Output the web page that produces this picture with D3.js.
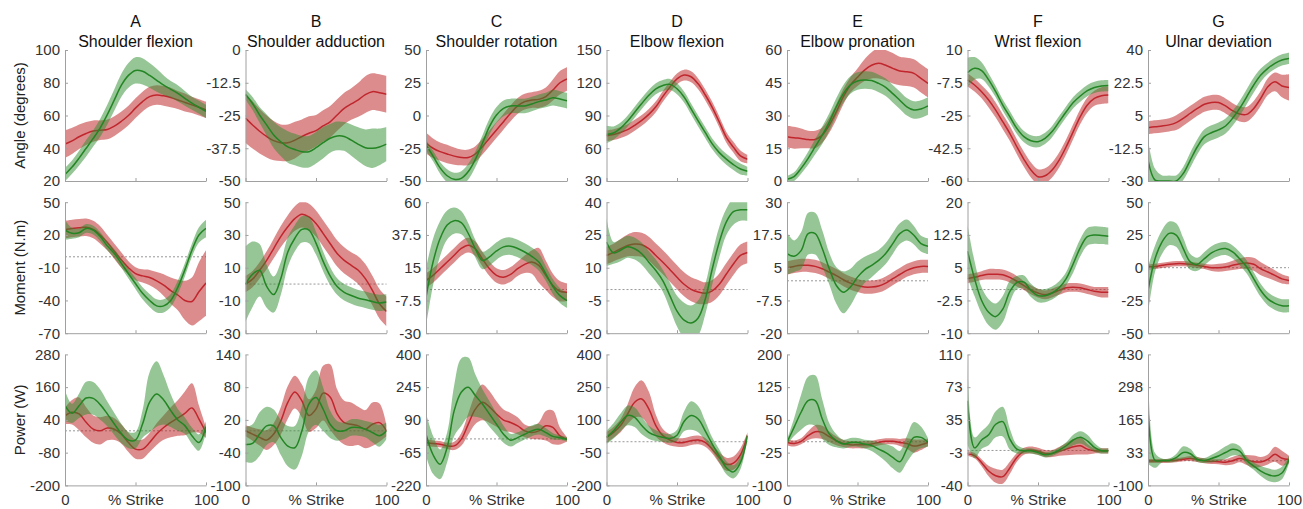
<!DOCTYPE html>
<html><head><meta charset="utf-8">
<script src="https://cdn.jsdelivr.net/npm/d3@7"></script>
<style>body{margin:0;background:#fff} text{font-family:Arial,"Liberation Sans",sans-serif}</style>
</head><body><svg id="c" width="1303" height="509"></svg>
<script>
// ---------- data ----------
const percentStrike = [0,5,10,15,20,25,30,35,40,45,50,55,60,65,70,75,80,85,90,95,100];
const panelLetters = ["A","B","C","D","E","F","G"];
const jointNames = ["Shoulder flexion","Shoulder adduction","Shoulder rotation","Elbow flexion","Elbow pronation","Wrist flexion","Ulnar deviation"];
const rowLabels = ["Angle (degrees)","Moment (N.m)","Power (W)"];
const xTickLabels = ["0","% Strike","100"];

const angleTicks = [
 ["100","80","60","40","20"],["0","-12.5","-25","-37.5","-50"],["50","25","0","-25","-50"],
 ["150","120","90","60","30"],["60","45","30","15","0"],["10","-7.5","-25","-42.5","-60"],["40","22.5","5","-12.5","-30"]];
const momentTicks = [
 ["50","20","-10","-40","-70"],["50","30","10","-10","-30"],["60","37.5","15","-7.5","-30"],
 ["40","25","10","-5","-20"],["30","17.5","5","-7.5","-20"],["20","12.5","5","-2.5","-10"],["50","25","0","-25","-50"]];
const powerTicks = [
 ["280","160","40","-80","-200"],["140","80","20","-40","-100"],["400","245","90","-65","-220"],
 ["400","250","100","-50","-200"],["200","125","50","-25","-100"],["110","73","35","-3","-40"],["430","298","165","33","-100"]];

const angleRedMean = [
 [42.5,44.5,47,49,50.5,51,51.5,53.5,56.5,60,64.5,68.5,71.5,72.5,72,71,69.5,68,66.5,65,63.5],
 [-26,-28.6,-31,-33,-34.6,-35.4,-35.4,-34.4,-33,-31.8,-30.8,-29,-27.4,-24.8,-22.3,-20.6,-19,-17,-15.9,-16.3,-16.9],
 [-21,-25,-27.6,-29.4,-31,-32,-32,-29.4,-23.8,-17.4,-11,-4.7,1.7,7.3,10.6,11.8,12.3,14.4,19.5,25,27.9],
 [71.5,72.5,74.5,77,81,85.5,91,98,107.5,116,123.5,127,125.5,119,109,97.5,84,70,61,53,50],
 [20.3,19.8,19.5,19,19,21,25.6,31.7,38.6,44,47.5,50.8,53,53.9,53,51.6,50.4,50,49.3,47,44.7],
 [-6,-8.7,-12.3,-16.7,-22.1,-28.3,-34.5,-41.7,-48.4,-54.1,-57.7,-57.2,-54.1,-48.8,-41.7,-33.6,-25.6,-19.4,-15.8,-14.4,-14],
 [-1.5,-1,-0.6,0,1.2,3.5,6.2,8.8,11,12,11.9,10.1,7.6,5.8,5.6,8.8,14.2,20.4,23,20.8,20]];
const angleRedSd = [
 [8.4,8,7.5,7,6.5,6,6,6,6,6,6,6,6,6,6,6,5.5,5.5,5,5,5],
 [9.5,9,8.5,8,7.5,7,7,7,6.5,6.5,6,6,6,6,6,6,6.5,7,7,7,7],
 [8,7.5,7,7,6.5,6,6,6,6,6,6,6,6,6,6,6,6.5,7,8,9,9],
 [5,5,5,5,5,5,5,5,5,5,5,5,5,5,5,5,5,5,5,5,4],
 [5,5,4.5,4,4,3.5,3.5,3.5,3.5,3.5,4,5,6,7,7,7,6.5,6.5,6.5,6.5,6.5],
 [3.5,3.5,3.5,4,4,4,4,4,4,4,4,4,4,4,4,4,4,4,4,4.5,4.5],
 [3.5,3.5,3.5,3.5,4,4,4,4,4,4,4,4,4,4,4,4,4,4.5,5,6,7]];
const angleGreenMean = [
 [24,28.5,34,40,46,52.5,60.5,69.5,78.5,84.5,87.5,87,84.5,81.5,78.5,76,73.5,70.5,67.5,65,62.5],
 [-17,-20.4,-24.8,-28.6,-32.4,-35,-37,-38,-38.8,-38.8,-37.3,-35.4,-33.7,-32.8,-33,-34.4,-36,-37.3,-37.5,-37,-35.9],
 [-22.5,-31,-40,-46,-48.7,-48,-42.8,-33.5,-21.2,-8.5,0.4,5.5,7.3,7.3,7.3,8.8,10.6,11.8,13.6,12.6,11.3],
 [72.5,74,78.5,85,93,101,108.5,114.5,117.5,118.5,114.5,107,96,85,74.5,64,56,50,45,41,39],
 [0.8,2,5.8,10.4,15.7,21,27,34,40,44,45.8,46.3,46,44.7,42.9,40,37,34,32.5,33,34.4],
 [-2.1,0.2,-1,-6,-12.3,-19.4,-25.6,-31.9,-36.3,-38.5,-39,-37.2,-33.6,-28.3,-23,-18.1,-14.6,-11.7,-10,-9.2,-9],
 [-18.8,-29.5,-30,-30,-30,-26,-18.8,-11.7,-6.3,-4.2,-2.7,-0.6,3.5,8.8,15,21.3,26.6,30.2,32.9,34.7,35.5]];
const angleGreenSd = [
 [4,4,4.5,5,5,5.5,6,6.5,7,7.5,8,8,7.5,7,6,5,5,4.5,4,4,4],
 [2,2.5,3,4,5,5.5,6,6,6,6,6,6,5.5,5.5,5.5,6,6.5,7,7.5,7,6.5],
 [4,4,4.5,5,5,5.5,6,6,6,6,6,6,5.5,5.5,5.5,5.5,5.5,5.5,6,6,6],
 [8,6,5,5,5,5,5,5,5,5,5,5,5,5,5,5,5,5,5,5,4],
 [1.5,2,2.5,3,3.5,4,4,4,4,4,4,4,4,4,4,4,4,4,4,4,4],
 [8,6,4.5,3.5,3,3,3,3,3,3,3,3,3,3,3,3,3,3,3,3,3],
 [11,6,3,3,3,3.5,4,4,4,4,4,4,4,4,4,4,3.5,3,3,3,3]];

const momentRedMean = [
 [25,26,26.5,27,25,20,13,5,-3,-10,-15.5,-17.5,-19,-22,-26,-31,-35,-40,-41,-32,-24],
 [0,3,8.4,14.5,21.7,29,35,40,42.6,41,37,31,24.8,18.7,14.5,11.4,8.4,3.3,-3.9,-12,-16.7],
 [6.2,9.7,14.3,18.9,23.5,28.2,30.5,28,21,14.3,9.7,8.5,10.4,14.3,17.3,18.9,16.6,9.7,2.8,-1.2,-1.8],
 [15.6,17,18.7,20.2,20.8,20.5,18.7,15.6,12.5,9.1,5.6,2.4,0.1,-1.1,-1.7,-0.6,2.4,7.1,11.7,15.6,17],
 [4.9,5.5,5.9,5.9,5.5,4.6,3.3,2,0.4,-0.9,-1.8,-2.4,-2.4,-2,-0.9,0.8,2.4,4,5,5.5,5.5],
 [2.5,2.8,3.2,3.5,3.5,3.4,2.8,1.9,0.9,-0.1,-0.8,-1.2,-0.8,-0.2,0.4,0.5,0.4,0,-0.4,-0.6,-0.6],
 [0.5,1,1.8,2.6,3.1,3.1,2.6,1.8,1,0,0,0.5,1.8,3.1,3.6,2.6,-0.8,-3.3,-5.9,-8.5,-9.7]];
const momentRedSd = [
 [8,8,8,8,8,8,7,7,7,6,6,6,7,8,10,12,14,18,22,27,30],
 [5,5,5,5.5,6,6.5,7,7.5,8,8,8,8,8,8,8,8,8.5,9,9,9,9],
 [5,5,5,5,5,5,5,5,5,5,5,5,5,5,6,8,12,10,8,7,6],
 [4,4,4.5,5,5.5,5.5,5.5,5.5,5.5,5.5,5.5,5.5,5.5,5.5,5,5,5,5,5,5,5],
 [2.5,2.5,2.5,2.5,2.5,2.5,2.5,2.5,2.5,2.5,2.5,2.5,2.5,2.5,2.5,2.5,2.5,2.5,2.5,2.5,2.5],
 [1,1,1,1.2,1.2,1.2,1.2,1.2,1,1,1,1,1,1,1,1,1,1,1,1.2,1.2],
 [2,2,2,2,2,2,2,2,2,2.5,3,3,3.5,4,4.5,5,5,4.5,4,3.5,3]];
const momentGreenMean = [
 [24.5,21.5,22,26,24.5,18.5,10,3,-6,-15.5,-24.5,-33.5,-40,-45,-45,-40,-28,-12,6,20,26],
 [0,6,8.4,-1.4,-6.4,3.3,19.6,28,33.4,33,25,14,5,-1.5,-5,-7,-8.6,-9.6,-10.7,-11.5,-11],
 [-5.3,18.9,35,44.3,47.3,45.9,38.5,28,20,22.4,26.5,29.3,29.8,28.2,25.8,22.8,18.9,10.8,2,-4.2,-7.6],
 [21.8,16.8,18,19.6,18.7,16.4,12.5,8.7,4,-2.9,-9.9,-14,-15.3,-13,-4.5,9.4,21.8,31,35.7,36.5,36.5],
 [10.4,9.4,11.5,18,18,12.3,4.6,-1.8,-4.4,-2.4,1.4,4.2,5.9,7.8,10.4,14.2,18,19.4,17.4,14.2,13.2],
 [8.8,2.5,-2.5,-5.2,-6.2,-4.5,-0.5,1.6,1.7,-0.2,-1.4,-1.4,-0.8,0.4,2.5,5.9,9.6,12.1,12.5,12.4,12.2],
 [-17.4,6.9,19.7,26.2,24.9,14.6,4.4,2.6,6.9,11.3,13.8,14.6,12,6.9,0.5,-8.5,-17.4,-23.8,-27.2,-29,-29]];
const momentGreenSd = [
 [9,5,4,4,4,4,4,4,4,4.5,5,5.5,6,6,6,6,6,6,6,7,8],
 [23,20,16,13,11,10,9,8,8,8,7,6,5.5,5,5,5,5,5,5,5,5],
 [20,16,12,10,9,8,7,6,6,6,6,6,6,6,6,6,6,5,5,5,5],
 [11,5,5,5,5,5,5,5,5,6,7,8,8,8,7,7,7,6,6,5,5],
 [8,6,7,8,8,7,6,7,8,7,6,5,4.5,4,4,4,4,4,3.5,3,3],
 [6,4,3,3,3,3,2.5,1.5,1.5,1.5,1.5,1.5,1.5,1.5,1.5,2,2,2,2,2,2],
 [18,10,9,9,9,8,6,5,5,5,5,5,5,5,5,5,5,5,5,5,5]];

const powerRedMean = [
 [55,68,62,31,6,0,10,6,-12,-43,-67,-67,-43,-12,12,31,47,64,84,43,-6],
 [0,-6,-12,-17,-6,18,52,71,55,28,40,69,62,31,15,12,9,3,12,15,0],
 [-17,-22,-25,-33,-33,-2,70,141,173,152,118,89,78,62,38,30,38,62,55,14,-2],
 [20,43,74,127,181,196,150,74,28,8,-3,-3,5,8,-3,-34,-73,-103,-98,-60,28],
 [-1.5,-4,1,14,23,21.5,11.5,2,-4,-7,-7,-7,-5,-1.5,1,1,-1.5,-4,-10,-7,-1.5],
 [-3.4,-6,-14,-23.5,-29,-30,-20,-8,-1,0.4,-1,-3.4,-3.4,-1,1.5,4.2,5.4,1.5,-0.4,-0.4,-0.4],
 [-1,-1,-1,0,2,6,9,5,0,-3,-4,-6,0,9,3,-4,-5,5,26,10,5]];
const powerRedSd = [
 [30,45,60,55,50,50,45,40,35,35,35,35,35,40,45,55,65,80,90,50,20],
 [10,12,15,18,20,25,30,30,30,30,35,50,60,45,40,40,35,35,40,35,10],
 [15,15,15,15,20,30,50,70,85,75,60,50,45,40,30,30,40,70,80,40,10],
 [25,25,30,45,70,85,80,50,30,25,20,20,20,20,20,20,25,30,30,30,15],
 [7,7,7,10,15,15,12,10,8,8,8,8,7,7,7,7,8,12,15,12,8],
 [3,3,4,6,8,8,7,5,4,4,4,4,4,5,7,9,10,6,3,3,3],
 [8,8,8,8,8,8,10,10,10,10,10,12,15,15,20,25,20,20,30,30,15]];
const powerGreenMean = [
 [92,64,92,120,119,96,62,25,-10,-34,-34,25,105,135,113,74,40,19,-18,-43,15],
 [-25,-23,-6,9,9,-12,-28,-31,0,49,61,40,12,0,0,6,6,3,-3,-9,0],
 [22,-75,-120,-40,134,221,245,205,165,118,70,22,-6,6,22,38,46,30,12,6,-2],
 [20,50,89,120,112,74,43,28,20,15,30,93,120,104,50,-11,-65,-119,-138,-96,28],
 [-1.5,33,67.5,94,94,52,17.6,2.3,-5.4,-1.5,-1.5,-5.4,-9,-17,-25,-36,-46,-17,10,10,-1.5],
 [57,3,12,18,30,33,13,1.5,-0.4,-0.4,-2.3,-5,-3.4,0.4,5.4,12,15,11,3.5,-0.4,-0.4],
 [209,1,1,1,12,33,28,5,1,9,19,33,46,39,1,-22,-42,-56,-62,-50,5]];
const powerGreenSd = [
 [55,35,45,60,60,55,45,40,35,30,30,50,110,120,90,60,40,30,30,30,20],
 [32,35,40,35,30,32,37,40,45,50,50,40,25,18,15,15,15,15,18,20,15],
 [100,90,70,70,120,160,140,100,70,60,50,40,30,25,25,25,25,20,15,10,10],
 [30,35,40,45,45,40,30,25,20,20,25,45,65,60,45,30,30,30,30,30,15],
 [5,20,40,55,58,45,25,15,10,10,10,10,12,15,20,25,25,30,35,25,10],
 [50,12,10,12,15,17,12,5,3,3,3,3,3,3,4,6,7,7,5,3,3],
 [220,30,8,8,15,25,20,10,10,15,20,25,25,20,15,15,20,25,25,25,15]];

// ---------- drawing ----------
const svg = d3.select("#c");
const defs = svg.append("defs");
const rows = [
 {ticks: angleTicks, rm: angleRedMean, rs: angleRedSd, gm: angleGreenMean, gs: angleGreenSd, zero: false},
 {ticks: momentTicks, rm: momentRedMean, rs: momentRedSd, gm: momentGreenMean, gs: momentGreenSd, zero: true},
 {ticks: powerTicks, rm: powerRedMean, rs: powerRedSd, gm: powerGreenMean, gs: powerGreenSd, zero: true}];
const series = [
 {key: "r", fill: "#bb2222", fillOp: 0.52, line: "#c0262d"},
 {key: "g", fill: "#2e8b2e", fillOp: 0.5, line: "#238523"}];
const W = 141, Hh = 131;
const colLeft = c => 65 + c * 180.5;
const rowTop = r => 50 + r * 152.2;
const curve = d3.curveCatmullRom.alpha(0.5);

rows.forEach((row, r) => {
  for (let c = 0; c < 7; c++) {
    const left = colLeft(c), top = rowTop(r);
    const labels = row.ticks[c];
    const ymax = +labels[0], ymin = +labels[4];
    const x = d3.scaleLinear().domain([0, 100]).range([left, left + W]);
    const y = d3.scaleLinear().domain([ymin, ymax]).range([top + Hh, top]);
    const g = svg.append("g");
    const cid = `clip${r}_${c}`;
    defs.append("clipPath").attr("id", cid).append("rect")
      .attr("x", left).attr("y", top).attr("width", W).attr("height", Hh);

    if (row.zero) {
      g.append("line").attr("x1", left).attr("x2", left + W)
        .attr("y1", y(0)).attr("y2", y(0))
        .attr("stroke", "#8c8c8c").attr("stroke-width", 0.9).attr("stroke-dasharray", "2,2");
    }
    const plot = g.append("g").attr("clip-path", `url(#${cid})`);
    series.forEach(s => {
      const m = s.key === "r" ? row.rm[c] : row.gm[c];
      const sd = s.key === "r" ? row.rs[c] : row.gs[c];
      const pts = percentStrike.map((p, i) => ({p, m: m[i], sd: sd[i]}));
      const area = d3.area().curve(curve)
        .x(d => x(d.p)).y0(d => y(d.m - d.sd)).y1(d => y(d.m + d.sd));
      const line = d3.line().curve(curve).x(d => x(d.p)).y(d => y(d.m));
      plot.append("path").attr("d", area(pts)).attr("fill", s.fill).attr("fill-opacity", s.fillOp);
      plot.append("path").attr("d", line(pts)).attr("fill", "none").attr("stroke", s.line).attr("stroke-width", 1.5);
    });

    const tv = d3.range(5).map(i => ymax - i * (ymax - ymin) / 4);
    const ya = g.append("g").attr("transform", `translate(${left},0)`)
      .call(d3.axisLeft(y).tickValues(tv).tickFormat((d, i) => labels[i])
        .tickSizeInner(-3).tickSizeOuter(0).tickPadding(5));
    const xa = g.append("g").attr("transform", `translate(0,${top + Hh})`)
      .call(d3.axisBottom(x).tickValues([0, 50, 100])
        .tickFormat((d, i) => r === 2 ? xTickLabels[i] : "")
        .tickSizeInner(-3).tickSizeOuter(0).tickPadding(9));
    [ya, xa].forEach(a => {
      a.select(".domain").attr("stroke", "#a0a0a0").attr("stroke-width", 1);
      a.selectAll(".tick line").attr("stroke", "#a0a0a0");
      a.selectAll("text").attr("font-size", 15).attr("fill", "#333")
        .attr("font-family", "Arial, 'Liberation Sans', sans-serif");
    });
    if (r === 0) {
      svg.append("text").attr("x", left + W / 2).attr("y", 27).attr("text-anchor", "middle")
        .attr("font-size", 16).attr("fill", "#111").text(panelLetters[c]);
      svg.append("text").attr("x", left + W / 2).attr("y", 46.5).attr("text-anchor", "middle")
        .attr("font-size", 16).attr("fill", "#111").text(jointNames[c]);
    }
  }
  svg.append("text")
    .attr("transform", `translate(20,${rowTop(r) + Hh / 2}) rotate(-90)`)
    .attr("text-anchor", "middle").attr("dy", "0.35em")
    .attr("font-size", 15).attr("fill", "#222").text(rowLabels[r]);
});
</script>
</body></html>
